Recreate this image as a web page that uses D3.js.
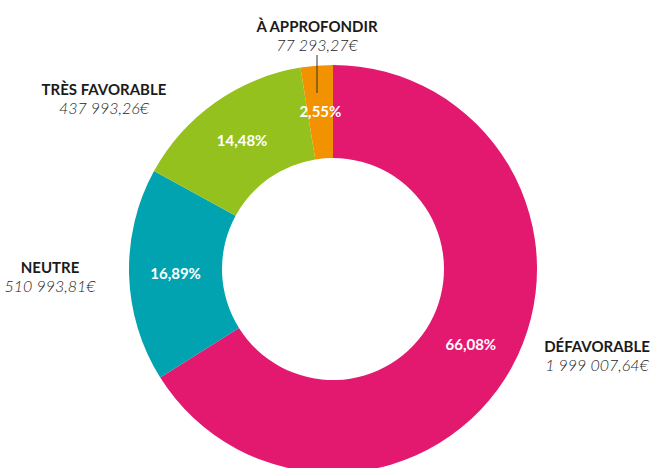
<!DOCTYPE html>
<html>
<head>
<meta charset="utf-8">
<script src="https://cdn.jsdelivr.net/npm/d3@7"></script>
<style>
	body { margin: 0; background: #fff; }
	svg { display: block; font-family: Lato, "Open Sans", sans-serif; }
	.name { font-weight: 700; font-size: 15px; fill: #1b1b1b; }
	.amount { font-style: italic; font-weight: 300; font-size: 16px; fill: #1e1e1e; }
	.pct { font-weight: 700; font-size: 15px; fill: #fff; }
</style>
</head>
<body>
<svg id="chart"></svg>
<script>
// data, clockwise from the top
let categories = ['DÉFAVORABLE', 'NEUTRE', 'TRÈS FAVORABLE', 'À APPROFONDIR'];
let amounts = [1999007.64, 510993.81, 437993.26, 77293.27];
let colors = ['#e3196f', '#00a3af', '#95c11f', '#f39200'];

let width = 652;
let height = 468;
let cx = 333, cy = 269;
let outerR = 204, innerR = 111;

// where the outside labels sit (name line, amount line below)
let labelPos = {
	'DÉFAVORABLE': { x: 597, y: 352 },
	'NEUTRE': { x: 50, y: 273 },
	'TRÈS FAVORABLE': { x: 104, y: 95 },
	'À APPROFONDIR': { x: 317, y: 32 }
};

let data = categories.map((c, i) => { return { name: c, value: amounts[i], color: colors[i] } });
let total = d3.sum(amounts);

let frFormat = d3.formatLocale({ decimal: ',', thousands: ' ', grouping: [3], currency: ['', '€'] });
let fmtAmount = frFormat.format(',.2f');
let fmtPct = frFormat.format('.2f');

let svg = d3.select('#chart')
	.attr('width', width)
	.attr('height', height);

let pie = d3.pie().sort(null).value(d => d.value);
let arc = d3.arc().innerRadius(innerR).outerRadius(outerR);
let arcs = pie(data);

let g = svg.append('g').attr('transform', `translate(${cx},${cy})`);

g.selectAll('path')
	.data(arcs)
	.enter()
	.append('path')
	.attr('d', arc)
	.attr('fill', d => d.data.color);

g.selectAll('.pct')
	.data(arcs)
	.enter()
	.append('text')
	.attr('class', 'pct')
	.attr('text-anchor', 'middle')
	.attr('dy', '0.35em')
	.attr('x', d => arc.centroid(d)[0])
	.attr('y', d => arc.centroid(d)[1])
	.text(d => fmtPct(d.value / total * 100) + '%');

// outside labels
let lab = svg.selectAll('.lab')
	.data(data)
	.enter()
	.append('g')
	.attr('class', 'lab')
	.attr('transform', d => `translate(${labelPos[d.name].x},${labelPos[d.name].y})`);

lab.append('text')
	.attr('class', 'name')
	.attr('text-anchor', 'middle')
	.text(d => d.name);

lab.append('text')
	.attr('class', 'amount')
	.attr('text-anchor', 'middle')
	.attr('y', 19)
	.text(d => fmtAmount(d.value) + '€');

// leader line for the small slice
let small = arcs[arcs.length - 1];
let lp = labelPos[small.data.name];
svg.append('line')
	.attr('x1', lp.x).attr('x2', lp.x)
	.attr('y1', lp.y + 23)
	.attr('y2', cy + arc.centroid(small)[1] - 19)
	.attr('stroke', '#333')
	.attr('stroke-width', 1);
</script>
</body>
</html>
